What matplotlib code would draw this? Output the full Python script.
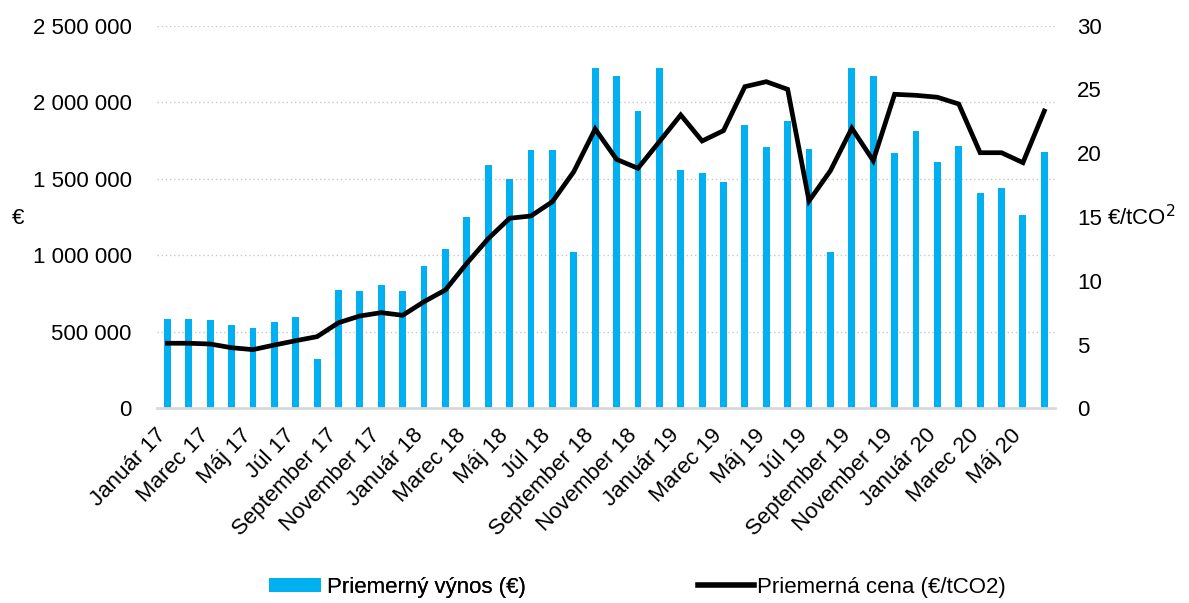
import matplotlib
matplotlib.use("Agg")
import matplotlib.pyplot as plt
from matplotlib.ticker import FuncFormatter, MultipleLocator
from matplotlib.lines import Line2D
from matplotlib.patches import Patch
import matplotlib.transforms as mtransforms
import numpy as np

plt.rcParams['font.family'] = ['Liberation Sans', 'DejaVu Sans']

months = ["Január", "Február", "Marec", "Apríl", "Máj", "Jún", "Júl", "August",
          "September", "Október", "November", "December"]
years = ["17", "18", "19", "20"]
categories = [f"{m} {y}" for y in years for m in months][:42]

revenue = [585000, 585000, 579000, 544000, 523000, 566000, 599000, 322000,
           771000, 769000, 806000, 767000, 928000, 1039000, 1252000, 1592000,
           1497000, 1690000, 1690000, 1020000, 2226000, 2172000, 1943000, 2226000,
           1560000, 1540000, 1479000, 1854000, 1706000, 1880000, 1693000, 1020000,
           2226000, 2172000, 1667000, 1812000, 1610000, 1716000, 1407000, 1442000,
           1263000, 1677000]

price = [5.10, 5.10, 5.04, 4.75, 4.60, 4.96, 5.30, 5.62,
         6.71, 7.24, 7.50, 7.29, 8.36, 9.28, 11.37, 13.30,
         14.90, 15.08, 16.20, 18.55, 21.90, 19.52, 18.82, 20.90,
         23.00, 20.96, 21.77, 25.22, 25.61, 25.01, 16.26, 18.63,
         21.96, 19.42, 24.62, 24.54, 24.39, 23.86, 20.04, 20.04,
         19.26, 23.31]

bar_color = "#00B0F0"
fs = 16

fig = plt.figure(figsize=(11.89, 6.03), dpi=100)
ax = fig.add_axes([0.1318, 0.3229, 0.7555, 0.6345])
x = np.arange(len(categories))
ax.bar(x, revenue, width=0.32, color=bar_color, zorder=2)
ax.set_xlim(-0.5, 41.5)
ax.set_ylim(0, 2500000)
ax.yaxis.set_major_locator(MultipleLocator(500000))
ax.yaxis.set_major_formatter(FuncFormatter(lambda v, p: f"{int(v):,}".replace(",", " ")))
ax.grid(axis='y', color='#c8c8c8', linestyle=(0, (1, 2)), linewidth=1.0, zorder=0)
for s in ['top', 'right', 'left']:
    ax.spines[s].set_visible(False)
ax.spines['bottom'].set_color('#d9d9d9')
ax.spines['bottom'].set_linewidth(2)
ax.spines['bottom'].set_zorder(3)
ax.tick_params(axis='y', length=0, pad=18, labelsize=fs)
ax.tick_params(axis='x', length=0, pad=12, labelsize=fs)
ax.set_xticks(x[::2])
ax.set_xticklabels(categories[::2], rotation=46, ha='right', rotation_mode='default')
offset = mtransforms.ScaledTranslation(3 / 100, 0, fig.dpi_scale_trans)
for lab in ax.get_xticklabels():
    lab.set_transform(lab.get_transform() + offset)

ax2 = ax.twinx()
ax2.plot(x, price, color='black', linewidth=3.4, solid_joinstyle='miter', zorder=4)
ax2.set_ylim(0, 30)
ax2.yaxis.set_major_locator(MultipleLocator(5))
for s in ['top', 'right', 'left', 'bottom']:
    ax2.spines[s].set_visible(False)
ax2.tick_params(axis='y', length=0, pad=16, labelsize=fs)

fig.text(18 / 1189, 1 - 218 / 603, "€", fontsize=fs, ha='center', va='center')
fig.text(1107 / 1189, 1 - 218 / 603, "€/tCO$^2$", fontsize=fs, ha='left', va='center')

h1 = Patch(facecolor=bar_color, edgecolor='none')
h2 = Line2D([0], [0], color='black', linewidth=4)
leg1 = fig.legend([h1], ["Priemerný výnos (€)"], loc='center left',
                  bbox_to_anchor=(269 / 1189, 1 - 587 / 603), frameon=False,
                  fontsize=fs, borderpad=0, borderaxespad=0, handlelength=2.35,
                  handleheight=0.6, handletextpad=0.25)
leg2 = fig.legend([h2], ["Priemerná cena (€/tCO2)"], loc='center left',
                  bbox_to_anchor=(698 / 1189, 1 - 587 / 603), frameon=False,
                  fontsize=fs, borderpad=0, borderaxespad=0, handlelength=2.5,
                  handletextpad=0.15)
fig.add_artist(leg1)

fig.savefig("out.png", dpi=100)
